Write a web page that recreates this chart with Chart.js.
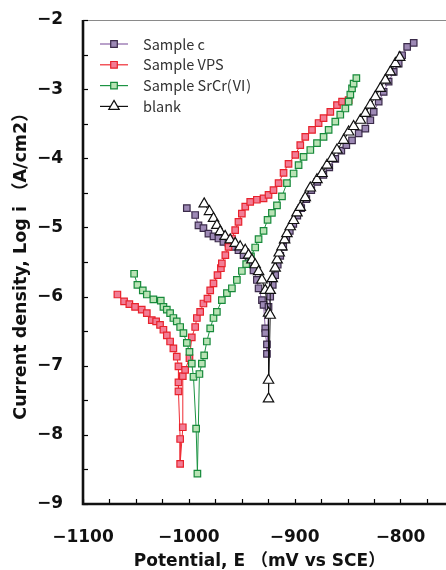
<!DOCTYPE html>
<html>
<head>
<meta charset="utf-8">
<script src="https://cdn.jsdelivr.net/npm/chart.js@4/dist/chart.umd.min.js"></script>
<style>
html,body{margin:0;padding:0;background:#fff;}
canvas{display:block;}
</style>
</head>
<body>
<canvas id="c" width="446" height="570"></canvas>
<script>
// ---- data (potential E in mV vs SCE, log i in A/cm2) ----
const seriesNames = ['Sample c', 'Sample VPS', 'Sample SrCr(\u2165)', 'blank'];

const sampleC_E = [-1001.9,-994,-990.9,-986.2,-981.5,-976.7,-972,-967.3,-962.5,-957.8,-953.1,-948.3,-943.6,-938.9,-935.7,-934.1,-930.9,-929.4,-927.8,-927.8,-926.2,-926.2,
  -924.7,-923.1,-920.7,-918.4,-916,-913.6,-910.8,-907.9,-904.6,-901.3,-897.5,-893.8,-889,-884.3,-878.6,-872.9,-867.3,-861.6,-855.9,-851.2,-845.8,-839.5,-833.2,-828.5,-825.3,-820.6,-815.9,-811.2,-806.4,-801.7,-798.5,-793.7,-787.5];
const sampleC_logI = [-4.72,-4.82,-4.97,-5.01,-5.09,-5.13,-5.16,-5.21,-5.23,-5.28,-5.33,-5.40,-5.50,-5.62,-5.76,-5.88,-6.05,-6.12,-6.46,-6.53,-6.69,-6.83,
  -6.15,-6.00,-5.83,-5.69,-5.54,-5.41,-5.28,-5.17,-5.05,-4.95,-4.83,-4.72,-4.59,-4.46,-4.34,-4.24,-4.13,-4.01,-3.89,-3.81,-3.74,-3.64,-3.57,-3.45,-3.33,-3.18,-3.04,-2.89,-2.75,-2.63,-2.51,-2.39,-2.33];

const vps_E = [-1067.5,-1061.2,-1056.2,-1050.8,-1044.5,-1039.7,-1035,-1030.9,-1027.2,-1024,-1020.8,-1017.7,-1014.6,-1011.4,-1009.8,-1009.8,-1009.8,-1008.2,-1008.2,
  -1005.7,-1005.7,-1003.5,-999.4,-997.2,-994,-992.4,-989.3,-986.2,-982.4,-979.8,-976.7,-972.9,-969.7,-968.8,-965.5,-962.5,-959.3,-956.2,-953.1,-949.9,-946.7,-942,-935.7,-929.4,-924.7,-920,-915.2,-910.5,-905.8,-899.4,-894.7,-890,-883.6,-877.4,-872.7,-866.3,-860,-855.2,-849];
const vps_logI = [-5.97,-6.07,-6.11,-6.15,-6.19,-6.24,-6.34,-6.36,-6.41,-6.48,-6.56,-6.65,-6.75,-6.87,-7.01,-7.24,-7.37,-8.06,-8.42,
  -7.89,-7.15,-7.06,-6.89,-6.59,-6.44,-6.31,-6.22,-6.10,-6.03,-5.91,-5.81,-5.69,-5.59,-5.52,-5.40,-5.28,-5.16,-5.04,-4.92,-4.80,-4.70,-4.63,-4.60,-4.58,-4.53,-4.46,-4.36,-4.21,-4.08,-3.95,-3.81,-3.69,-3.59,-3.49,-3.42,-3.33,-3.23,-3.18,-3.16];

const srcr_E = [-1051.7,-1048.6,-1043.5,-1039.7,-1033.5,-1026.5,-1024,-1020.8,-1017.7,-1014.6,-1011.4,-1008.2,-1005.1,-1001.9,-999.4,-997.2,-995.6,-993.1,-991.9,
  -990,-987.7,-985.5,-983,-979.8,-976.7,-973.5,-968.8,-964,-959.3,-954.6,-949.9,-945.8,-941.3,-937.3,-934.1,-929.4,-925.6,-921.5,-916.7,-912,-907.3,-901,-896.3,-891.6,-885.2,-878.9,-872.7,-867.9,-861.6,-856.9,-852.1,-849,-847.4,-845.8,-844.3,-841.7];
const srcr_logI = [-5.67,-5.83,-5.91,-5.97,-6.04,-6.06,-6.15,-6.19,-6.24,-6.31,-6.36,-6.44,-6.53,-6.67,-6.80,-6.97,-7.16,-7.91,-8.56,
  -7.12,-6.97,-6.85,-6.65,-6.46,-6.31,-6.22,-6.05,-5.95,-5.88,-5.76,-5.63,-5.53,-5.42,-5.29,-5.17,-5.05,-4.89,-4.79,-4.68,-4.55,-4.36,-4.22,-4.10,-3.98,-3.88,-3.78,-3.69,-3.59,-3.47,-3.37,-3.28,-3.18,-3.08,-2.99,-2.92,-2.84];

const blank_E = [-985.5,-980.5,-976.7,-973.5,-970.4,-965.7,-960.9,-956.2,-951.5,-946.7,-943.6,-940.4,-937.3,-934.1,-930.9,-927.8,-924.7,-924.7,-924.7,
  -923.1,-923.1,-921.2,-918.4,-916.5,-914.6,-912,-909.5,-907.3,-904.2,-901,-897.8,-894.7,-890,-885.2,-878.9,-874.2,-869.4,-864.7,-860,-853.7,-849,-844.3,-837.9,-833.2,-828.5,-823.7,-819,-814.3,-809.6,-804.8,-800.7];
const blank_logI = [-4.66,-4.77,-4.87,-4.97,-5.06,-5.13,-5.18,-5.23,-5.28,-5.33,-5.40,-5.47,-5.54,-5.64,-5.76,-5.91,-6.24,-7.21,-7.48,
  -6.27,-5.91,-5.74,-5.59,-5.47,-5.37,-5.28,-5.18,-5.09,-4.99,-4.90,-4.79,-4.71,-4.57,-4.43,-4.31,-4.22,-4.10,-4.00,-3.88,-3.74,-3.62,-3.54,-3.45,-3.35,-3.23,-3.11,-2.99,-2.87,-2.75,-2.63,-2.54];

const xTickLabels = [-1100, -1000, -900, -800];
const yTickLabels = [-9, -8, -7, -6, -5, -4, -3, -2];
const xMinorTicks = [-1100,-1075,-1050,-1025,-1000,-975,-950,-925,-900,-875,-850,-825,-800,-775];
const yMinorTicks = [-9,-8.5,-8,-7.5,-7,-6.5,-6,-5.5,-5,-4.5,-4,-3.5,-3,-2.5,-2];
const xTitle = 'Potential, E \uFF08mV vs SCE\uFF09';
const yTitle = 'Current density, Log i \uFF08A/cm2\uFF09';

// ---- build ----
function pts(xs, ys){ return xs.map((x,i)=>({x:x, y:ys[i]})); }
const minus = v => String(v).replace('-', '\u2212');

const styles = [
  {line:'#8a62a6', fill:'#9d89b5', border:'#3b2b4a', shape:'rect', r:4.6, order:3},
  {line:'#ef2b33', fill:'#f27d95', border:'#e8222c', shape:'rect', r:4.6, order:2},
  {line:'#1c9443', fill:'#b9e3b5', border:'#178a3b', shape:'rect', r:4.6, order:1},
  {line:'#111111', fill:'#ffffff', border:'#111111', shape:'triangle', r:6, order:0}
];
const dataPairs = [[sampleC_E,sampleC_logI],[vps_E,vps_logI],[srcr_E,srcr_logI],[blank_E,blank_logI]];

const datasets = dataPairs.map((p,i)=>({
  label: seriesNames[i],
  data: pts(p[0], p[1]),
  showLine: true,
  borderColor: styles[i].line,
  borderWidth: 1,
  pointStyle: styles[i].shape,
  pointRadius: styles[i].r,
  pointBackgroundColor: styles[i].fill,
  pointBorderColor: styles[i].border,
  pointBorderWidth: 1.2,
  order: styles[i].order,
  tension: 0,
  clip: false
}));

function zeroPad(s){ s.paddingTop = 0; s.paddingBottom = 0; s.paddingLeft = 0; s.paddingRight = 0; }

const framePlugin = {
  id: 'frame',
  afterDatasetsDraw(chart){
    const ctx = chart.ctx, a = chart.chartArea;
    const xs = chart.scales.x, ys = chart.scales.y;
    ctx.save();
    // top border
    ctx.strokeStyle = '#8a8a8a'; ctx.lineWidth = 1.2;
    ctx.beginPath(); ctx.moveTo(a.left, a.top + 0.5); ctx.lineTo(a.right, a.top + 0.5); ctx.stroke();
    // ticks
    ctx.strokeStyle = '#000'; ctx.lineWidth = 1.2;
    xMinorTicks.forEach(v=>{
      const px = Math.round(xs.getPixelForValue(v)) + 0.5;
      ctx.beginPath(); ctx.moveTo(px, a.bottom); ctx.lineTo(px, a.bottom - 5); ctx.stroke();
    });
    yMinorTicks.forEach(v=>{
      const py = Math.round(ys.getPixelForValue(v)) + 0.5;
      ctx.beginPath(); ctx.moveTo(a.left, py); ctx.lineTo(a.left + 5, py); ctx.stroke();
    });
    // axes
    ctx.lineWidth = 2.6; ctx.strokeStyle = '#111';
    ctx.beginPath(); ctx.moveTo(a.left, a.top); ctx.lineTo(a.left, a.bottom); ctx.lineTo(a.right, a.bottom); ctx.stroke();

    // axis titles
    ctx.fillStyle = '#111';
    ctx.font = 'bold 17px "DejaVu Sans", "Noto Sans CJK JP", sans-serif';
    ctx.textAlign = 'center'; ctx.textBaseline = 'alphabetic';
    ctx.fillText(xTitle, (a.left + 446) / 2 - 5, 566);
    ctx.save();
    ctx.translate(26, (a.top + a.bottom) / 2);
    ctx.rotate(-Math.PI / 2);
    ctx.font = 'bold 17.5px "DejaVu Sans", "Noto Sans CJK JP", sans-serif';
    ctx.fillText(yTitle, 0, 0);
    ctx.restore();

    // legend
    const lx0 = 100, lx1 = 128, mx = 114, tx = 143;
    chart.data.datasets.forEach((ds, i)=>{
      const y = 44 + i * 20.8;
      ctx.strokeStyle = styles[i].line; ctx.lineWidth = 1.2;
      ctx.beginPath(); ctx.moveTo(lx0, y); ctx.lineTo(lx1, y); ctx.stroke();
      ctx.fillStyle = styles[i].fill; ctx.strokeStyle = styles[i].border; ctx.lineWidth = 1.2;
      ctx.beginPath();
      if (styles[i].shape === 'rect') {
        ctx.rect(mx - 3.3, y - 3.3, 6.6, 6.6);
      } else {
        const r = 6;
        ctx.moveTo(mx, y - r);
        ctx.lineTo(mx + r * 0.866, y + r * 0.5);
        ctx.lineTo(mx - r * 0.866, y + r * 0.5);
        ctx.closePath();
      }
      ctx.fill(); ctx.stroke();
      ctx.fillStyle = '#333';
      ctx.font = '14.5px "Noto Sans CJK JP", "Noto Sans", sans-serif';
      ctx.textAlign = 'left'; ctx.textBaseline = 'middle';
      ctx.fillText(ds.label, tx, y);
    });
    ctx.restore();
  }
};

new Chart(document.getElementById('c'), {
  type: 'scatter',
  data: { datasets: datasets },
  options: {
    responsive: false,
    animation: false,
    devicePixelRatio: 1,
    layout: { autoPadding: false, padding: { top: 20, right: 0, left: 0, bottom: 0 } },
    plugins: { legend: { display: false }, tooltip: { enabled: false } },
    scales: {
      x: {
        type: 'linear', min: -1100, max: -757,
        grid: { display: false, drawTicks: false },
        border: { display: false },
        afterFit: s => { s.height = 66; zeroPad(s); },
        afterBuildTicks: s => { s.ticks = xTickLabels.map(v => ({ value: v })); },
        ticks: {
          includeBounds: false, padding: 23, color: '#111', maxRotation: 0,
          font: { family: '"DejaVu Sans", sans-serif', weight: 'bold', size: 17 },
          callback: v => minus(v)
        }
      },
      y: {
        type: 'linear', min: -9, max: -2,
        grid: { display: false, drawTicks: false },
        border: { display: false },
        afterFit: s => { s.width = 83; zeroPad(s); },
        afterBuildTicks: s => { s.ticks = yTickLabels.map(v => ({ value: v })); },
        ticks: {
          padding: 20, color: '#111',
          font: { family: '"DejaVu Sans", sans-serif', weight: 'bold', size: 17 },
          callback: v => minus(v)
        }
      }
    }
  },
  plugins: [framePlugin]
});
</script>
</body>
</html>
